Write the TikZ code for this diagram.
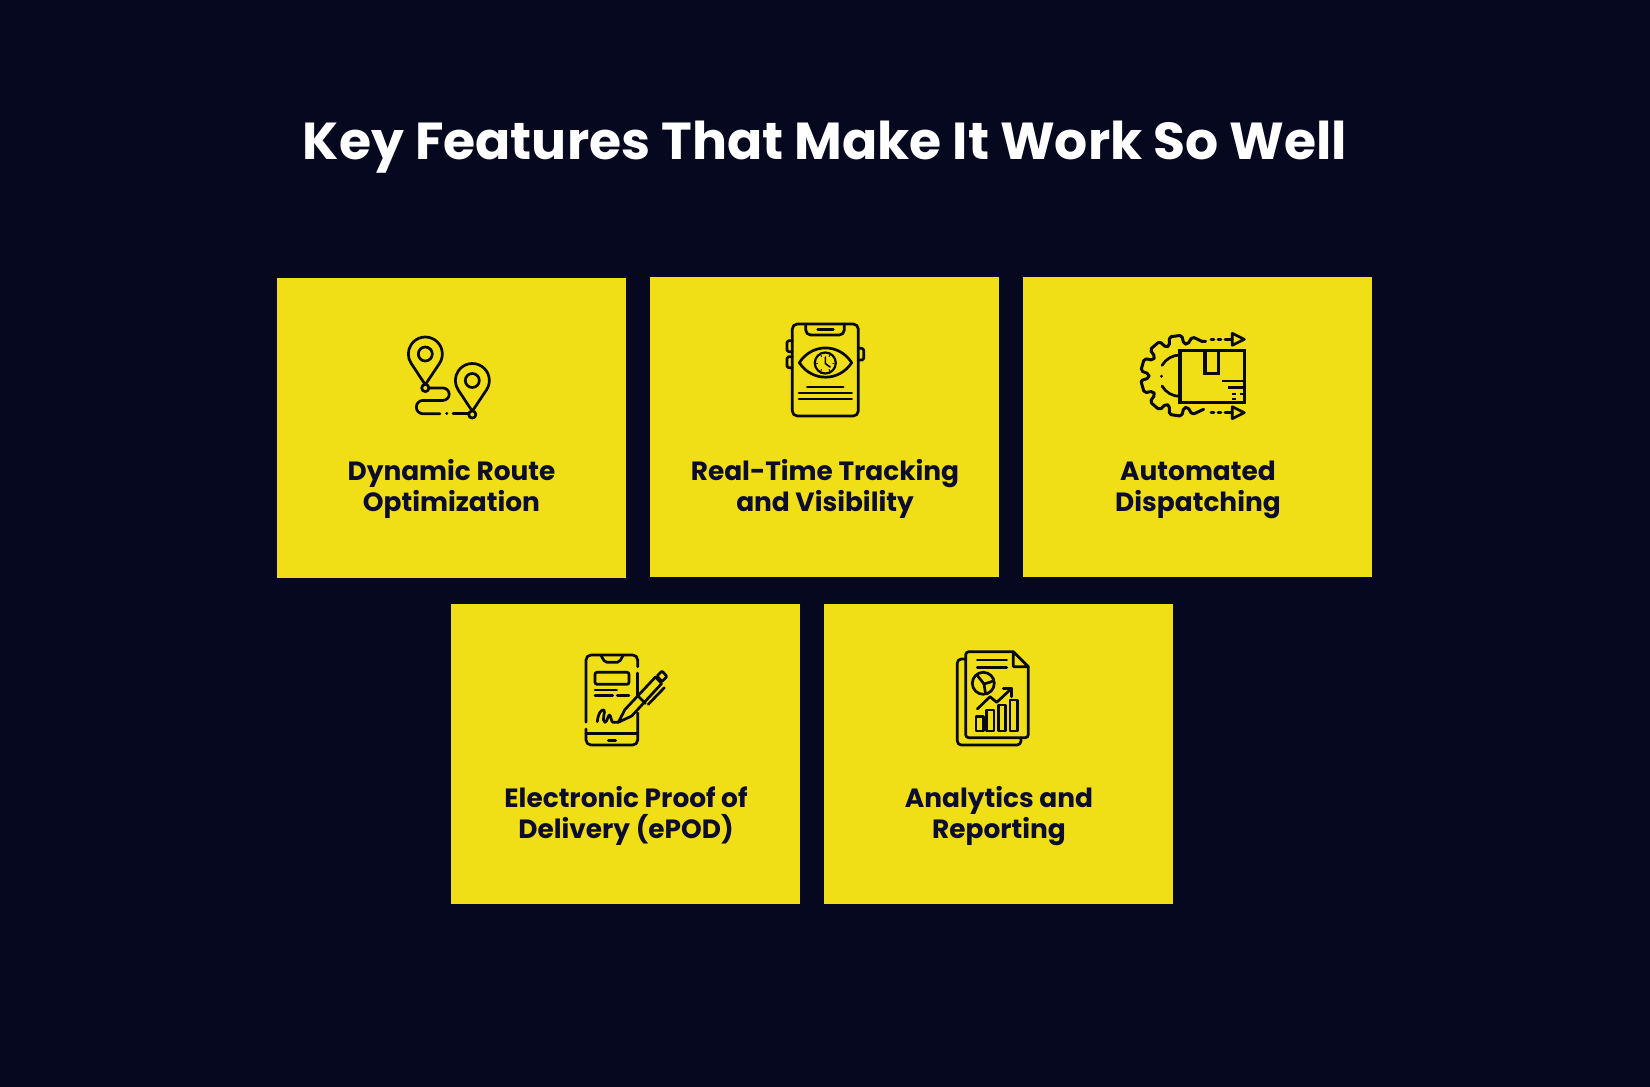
\documentclass[tikz,border=0pt]{standalone}
\usepackage{fontspec}
\setmainfont{Poppins}
\usepackage{xcolor}
\usetikzlibrary{calc}

\definecolor{nightblue}{HTML}{05081E}
\definecolor{cardyellow}{HTML}{F0DE17}
\definecolor{labelblue}{HTML}{0B0C2E}
\definecolor{iconblack}{HTML}{08080F}

\tikzset{
	card/.style={fill=cardyellow, anchor=north west, inner sep=0pt, minimum width=174.5pt, minimum height=150pt},
	cardlabel/.style={text=labelblue, font=\bfseries\fontsize{13.2}{15.6}\selectfont, align=center, anchor=base},
	icon/.style={draw=iconblack, line width=1.35pt, line cap=round, line join=round}
}

\begin{document}
\begin{tikzpicture}[x=0.5pt, y=-0.5pt]
	\fill[nightblue] (0,0) rectangle (1650,1087);
	\useasboundingbox (0,0) rectangle (1650,1087);

	\node[text=white, font=\bfseries\fontsize{26}{30}\selectfont, anchor=base] (title) at (825,159) {Key Features That Make It Work So Well};

	\node[card] (route) at (277,278) {};
	\node[card] (tracking) at (650,277) {};
	\node[card] (dispatch) at (1023,277) {};
	\node[card] (proof) at (451,604) {};
	\node[card] (reports) at (824,604) {};

	\node[cardlabel] (routelabel) at (451.5,511.5) {Dynamic Route\\Optimization};
	\node[cardlabel] (trackinglabel) at (825,511.5) {Real-Time Tracking\\and Visibility};
	\node[cardlabel] (dispatchlabel) at (1198,511.5) {Automated\\Dispatching};
	\node[cardlabel] (prooflabel) at (626,838.5) {Electronic Proof of\\Delivery (ePOD)};
	\node[cardlabel] (reportslabel) at (999,838.5) {Analytics and\\Reporting};

	% route icon
	\foreach \hx/\hy in {425.3/354, 472.3/380.5} {
		\draw[icon] (\hx,\hy+30.7) -- ++(14.2,-21.3) arc[start angle=33.6, end angle=-213.6, radius=17] -- cycle;
		\draw[icon] (\hx,\hy) circle (7);
		\draw[icon, fill=cardyellow] (\hx,\hy+34) circle (3.6);
	}
	\draw[icon] (429,388) -- (443,388) arc[start angle=-90, end angle=90, radius=6.2] -- (423,400.4) arc[start angle=-90, end angle=-270, radius=6.7] -- (440,413.8);
	\draw[icon] (446.5,413.8) -- (447,413.8);
	\draw[icon] (453,413.8) -- (468.5,413.8);

	% tracking icon
	\draw[icon, rounded corners=2.5] (792.3,324) -- (858.3,324) -- (858.3,416) -- (792.3,416) -- cycle;
	\draw[icon, rounded corners=2.5] (805.7,324) -- (805.7,335) -- (844.3,335) -- (844.3,324);
	\draw[icon] (817.7,329.3) -- (833.3,329.3);
	\draw[icon, rounded corners=0.8] (792.3,340.7) -- (787,340.7) -- (787,351.7) -- (792.3,351.7);
	\draw[icon, rounded corners=0.8] (792.3,356.7) -- (787,356.7) -- (787,367.7) -- (792.3,367.7);
	\draw[icon, rounded corners=0.8] (858.3,348.3) -- (863.7,348.3) -- (863.7,360) -- (858.3,360);
	\draw[icon] (799.3,362.7) .. controls (812,343) and (839,343) .. (851.7,362.7) .. controls (839,382) and (812,382) .. (799.3,362.7) -- cycle;
	\draw[icon, line width=1.1pt] (825.3,363) circle (10.5);
	\foreach \a in {0,60,...,300} {
		\draw[icon, line width=0.5pt] (\a:7.6) ++(825.3,363) -- ++(\a:1.2);
	}
	\draw[icon, line width=0.8pt] (825.3,357) -- (825.3,363.5) -- (830,367);
	\draw[icon] (807.3,387) -- (843.3,387);
	\draw[icon] (799,393) -- (851.7,393);
	\draw[icon] (799,399) -- (851.7,399);

	% dispatch icon
	\draw[icon, line width=1.5pt, rounded corners=1] (1205,341.5)
		\foreach \a in {-65,-98,-131,-164,-196,-229,-262} {
			-- ($(1181,375.7)+(\a+9:40.5)$) -- ($(1181,375.7)+(\a-9:40.5)$) -- ($(1181,375.7)+(\a-13:32)$) -- ($(1181,375.7)+(\a-20:32)$)
		}
		-- ($(1181,375.7)+(-286:40.5)$) -- ($(1181,375.7)+(-304:40.5)$);
	\draw[icon] (1180,355) arc[start angle=-90, end angle=-150, radius=20.7];
	\draw[icon] (1161.7,376) -- (1161.7,376.5);
	\draw[icon] (1180,396.4) arc[start angle=90, end angle=150, radius=20.7];
	\draw[icon, line width=1.7pt, line join=miter, line cap=butt] (1180,350.7) rectangle (1244.3,402.7);
	\draw[icon, line width=1.7pt, line join=miter, line cap=butt] (1205,350.7) -- (1205,373.3) -- (1218.3,373.3) -- (1218.3,350.7);
	\draw[icon, line cap=butt] (1221.7,381) -- (1244.3,381);
	\draw[icon, line cap=butt] (1228.3,387.7) -- (1244.3,387.7);
	\draw[icon, line cap=butt] (1232,394) -- (1236,394);
	\draw[icon, line cap=butt] (1240,394) -- (1244.3,394);
	\draw[icon, line cap=butt] (1232,399) -- (1236,399);
	\foreach \hy in {339.3, 412.7} {
		\draw[icon] (1211,\hy) -- (1214,\hy);
		\draw[icon] (1218,\hy) -- (1221,\hy);
		\draw[icon] (1225,\hy) -- (1232.3,\hy);
		\draw[icon] (1232.3,\hy-6) -- (1244.3,\hy) -- (1232.3,\hy+6) -- cycle;
	}

	% proof icon
	\draw[icon, rounded corners=2.5] (586,722.3) -- (586,655) -- (637.7,655) -- (637.7,666.7);
	\draw[icon] (637.7,673) -- (637.7,698);
	\draw[icon, rounded corners=2.5] (637.7,713) -- (637.7,745) -- (586,745) -- (586,729);
	\draw[icon] (586,733.3) -- (637.7,733.3);
	\draw[icon, rounded corners=1] (600.7,655) -- (605,662.3) -- (619.3,662.3) -- (623.3,655);
	\draw[icon] (608.3,740.3) -- (615.7,740.3);
	\draw[icon, rounded corners=1] (595,672.3) rectangle (629,684.3);
	\draw[icon] (595,690) -- (616.7,690);
	\draw[icon] (595,695.7) -- (612.7,695.7);
	\draw[icon] (617.3,695.7) -- (629,695.7);
	\draw[icon] (597.3,721.7) .. controls (598,714) and (601,709) .. (604,710) .. controls (606,711) and (601,721) .. (605,722.3) .. controls (607,722.5) and (608,715) .. (609.5,715) .. controls (611,715) and (611,722) .. (613,722.3) -- (618.3,722.3);
	\draw[icon, fill=cardyellow] (618.3,722.3) -- (625,709.5) -- (655.5,677) -- (661.7,683.5) -- (631.7,716) -- cycle;
	\draw[icon, fill=cardyellow, rounded corners=0.5] (657,676) -- (662,671) -- (667,676.5) -- (662,681.5) -- cycle;
	\draw[icon] (639,697) -- (645.5,703.5);
	\draw[icon] (648.3,704.3) -- (664.3,687.7);

	% reports icon
	\draw[icon, rounded corners=2] (965.7,659) -- (957.3,659) -- (957.3,745) -- (1021,745) -- (1021,737.7);
	\draw[icon, rounded corners=1.5] (1013.3,651.7) -- (965.7,651.7) -- (965.7,737.7) -- (1028.3,737.7) -- (1028.3,666.7);
	\draw[icon] (1013.3,651.7) -- (1028.3,666.7) -- (1013.3,666.7) -- cycle;
	\draw[icon] (977.3,660) -- (1006.7,660);
	\draw[icon] (977.3,667.3) -- (1006.7,667.3);
	\draw[icon] (983.3,683.3) circle (11);
	\draw[icon] (977,675) -- (984,684) -- (993.5,681);
	\draw[icon] (984,684) -- (985.5,693.5);
	\draw[icon] (977.3,709) -- (990,696.7) -- (996.7,702.3) -- (1011.7,688.3);
	\draw[icon] (1003.3,688.3) -- (1011.7,688.3) -- (1011.7,696.7);
	\foreach \bx/\by in {976/716.7, 986.7/710, 998.3/705, 1010/700} {
		\draw[icon] (\bx,731) rectangle (\bx+7.3,\by);
	}
\end{tikzpicture}
\end{document}
